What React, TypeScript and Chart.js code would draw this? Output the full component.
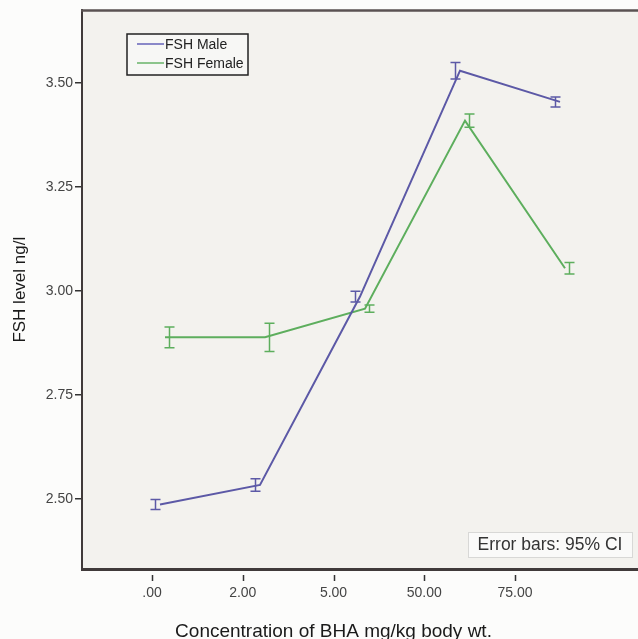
import React, { useEffect, useRef } from 'react';
import { Chart, registerables } from 'chart.js';

Chart.register(...registerables);

// ---- data ----
const categories = ['.00', '2.00', '5.00', '50.00', '75.00'];
const seriesLabels = ['FSH Male', 'FSH Female'];
const maleMeans = [2.487, 2.534, 2.987, 3.53, 3.455];
const maleCI = [0.012, 0.015, 0.013, 0.02, 0.012];
const femaleMeans = [2.889, 2.889, 2.958, 3.41, 3.055];
const femaleCI = [0.025, 0.034, 0.009, 0.016, 0.014];
const yTickValues = [2.5, 2.75, 3.0, 3.25, 3.5];
const xTitle = 'Concentration of BHA mg/kg body wt.';
const yTitle = 'FSH level ng/l';
const noteText = 'Error bars: 95% CI';

// ---- styles / layout ----
const W = 638;
const H = 639;
const MALE_COLOR = '#5c59a6';
const FEMALE_COLOR = '#5dae5d';
const MALE_LEGEND = '#8a88c8';
const FEMALE_LEGEND = '#8cc48c';
const FRAME = '#403a3a';
const FONT = '"Liberation Sans", Arial, sans-serif';
const TICK_START = -0.1;
const TICK_STEP = 0.9075;
const MALE_SHIFT = -0.02;
const FEMALE_SHIFT = 0.03;
const MALE_BAR_PX = -5;
const FEMALE_BAR_PX = 4;

const decorPlugin = {
  id: 'decor',
  beforeDraw(chart: any) {
    const { ctx, chartArea } = chart;
    ctx.save();
    ctx.fillStyle = '#fcfcfb';
    ctx.fillRect(0, 0, chart.width, chart.height);
    ctx.fillStyle = '#f3f2ee';
    ctx.fillRect(chartArea.left, chartArea.top, chartArea.right - chartArea.left, chartArea.bottom - chartArea.top);
    ctx.restore();
  },
  afterDatasetsDraw(chart: any) {
    const { ctx } = chart;
    const xs = chart.scales.x;
    const ys = chart.scales.y;
    const sets = [
      { means: maleMeans, ci: maleCI, shift: MALE_SHIFT, px: MALE_BAR_PX, color: MALE_COLOR },
      { means: femaleMeans, ci: femaleCI, shift: FEMALE_SHIFT, px: FEMALE_BAR_PX, color: FEMALE_COLOR },
    ];
    ctx.save();
    ctx.lineWidth = 1.5;
    sets.forEach((s) => {
      ctx.strokeStyle = s.color;
      s.means.forEach((m, i) => {
        const x = Math.round(xs.getPixelForValue(i + s.shift) + s.px) + 0.5;
        const yt = ys.getPixelForValue(m + s.ci[i]);
        const yb = ys.getPixelForValue(m - s.ci[i]);
        ctx.beginPath();
        ctx.moveTo(x, yt);
        ctx.lineTo(x, yb);
        ctx.moveTo(x - 5, yt);
        ctx.lineTo(x + 5, yt);
        ctx.moveTo(x - 5, yb);
        ctx.lineTo(x + 5, yb);
        ctx.stroke();
      });
    });
    ctx.restore();
  },
  afterDraw(chart: any) {
    const { ctx, chartArea } = chart;
    const xs = chart.scales.x;
    ctx.save();
    // top frame line
    ctx.strokeStyle = '#5a5252';
    ctx.lineWidth = 2.5;
    ctx.beginPath();
    ctx.moveTo(chartArea.left - 1, chartArea.top);
    ctx.lineTo(chartArea.right, chartArea.top);
    ctx.stroke();

    // x tick marks (offset below axis)
    ctx.strokeStyle = '#333';
    ctx.lineWidth = 1.5;
    xs.ticks.forEach((t: any) => {
      const x = Math.round(xs.getPixelForValue(t.value)) + 0.5;
      ctx.beginPath();
      ctx.moveTo(x, chartArea.bottom + 6);
      ctx.lineTo(x, chartArea.bottom + 12);
      ctx.stroke();
    });

    // x title centered on the tick range
    const first = xs.getPixelForValue(xs.ticks[0].value);
    const last = xs.getPixelForValue(xs.ticks[xs.ticks.length - 1].value);
    ctx.fillStyle = '#1a1a1a';
    ctx.font = `19px ${FONT}`;
    ctx.textAlign = 'center';
    ctx.textBaseline = 'middle';
    ctx.fillText(xTitle, (first + last) / 2, 632);

    // legend
    const lx = 127, ly = 34, lw = 121, lh = 41;
    ctx.fillStyle = '#f7f7f5';
    ctx.fillRect(lx, ly, lw, lh);
    ctx.strokeStyle = '#222';
    ctx.lineWidth = 1.5;
    ctx.strokeRect(lx, ly, lw, lh);
    const legendColors = [MALE_LEGEND, FEMALE_LEGEND];
    ctx.font = `14px ${FONT}`;
    ctx.textAlign = 'left';
    ctx.textBaseline = 'middle';
    seriesLabels.forEach((lab, i) => {
      const y = ly + 10 + i * 19;
      ctx.strokeStyle = legendColors[i];
      ctx.lineWidth = 2;
      ctx.beginPath();
      ctx.moveTo(lx + 10, y);
      ctx.lineTo(lx + 37, y);
      ctx.stroke();
      ctx.fillStyle = '#222';
      ctx.fillText(lab, lx + 38, y + 1);
    });

    // error bar note
    const nx = 468, ny = 532, nw = 164, nh = 25;
    ctx.fillStyle = '#fafaf9';
    ctx.fillRect(nx, ny, nw, nh);
    ctx.strokeStyle = '#d8d8d6';
    ctx.lineWidth = 1;
    ctx.strokeRect(nx + 0.5, ny + 0.5, nw, nh);
    ctx.fillStyle = '#333';
    ctx.font = `17.5px ${FONT}`;
    ctx.textAlign = 'center';
    ctx.fillText(noteText, nx + nw / 2, ny + nh / 2 + 1);
    ctx.restore();
  },
};

export default function App() {
  const ref = useRef<HTMLCanvasElement | null>(null);
  useEffect(() => {
    if (!ref.current) return;
    const chart = new Chart(ref.current, {
      type: 'line',
      data: {
        datasets: [
          {
            label: seriesLabels[0],
            data: maleMeans.map((v, i) => ({ x: i + MALE_SHIFT, y: v })),
            borderColor: MALE_COLOR,
            borderWidth: 2,
            pointRadius: 0,
            tension: 0,
          },
          {
            label: seriesLabels[1],
            data: femaleMeans.map((v, i) => ({ x: i + FEMALE_SHIFT, y: v })),
            borderColor: FEMALE_COLOR,
            borderWidth: 2,
            pointRadius: 0,
            tension: 0,
          },
        ],
      },
      options: {
        animation: false,
        responsive: false,
        devicePixelRatio: 1,
        layout: { padding: { top: 10, left: 0, right: 0, bottom: 0 } },
        plugins: { legend: { display: false }, tooltip: { enabled: false } },
        scales: {
          x: {
            type: 'linear',
            min: -0.8,
            max: 4.76,
            afterBuildTicks: (scale: any) => {
              scale.ticks = categories.map((_, i) => ({ value: TICK_START + i * TICK_STEP }));
            },
            afterFit: (scale: any) => {
              scale.height = 70;
            },
            ticks: {
              autoSkip: false,
              maxRotation: 0,
              padding: 16,
              color: '#444',
              font: { family: FONT, size: 14 },
              callback: (_v: any, idx: number) => categories[idx],
            },
            grid: { display: true, drawOnChartArea: false, drawTicks: false },
            border: { display: true, color: FRAME, width: 3 },
          },
          y: {
            type: 'linear',
            min: 2.332,
            max: 3.675,
            afterBuildTicks: (scale: any) => {
              scale.ticks = yTickValues.map((v) => ({ value: v }));
            },
            afterFit: (scale: any) => {
              scale.width = 82;
            },
            ticks: {
              padding: 2,
              color: '#444',
              font: { family: FONT, size: 14 },
              callback: (v: any) => Number(v).toFixed(2),
            },
            grid: {
              display: true,
              drawOnChartArea: false,
              drawTicks: true,
              tickLength: 7,
              tickColor: '#333',
              lineWidth: 1.5,
            },
            border: { display: true, color: FRAME, width: 2 },
            title: {
              display: true,
              text: yTitle,
              color: '#1a1a1a',
              font: { family: FONT, size: 17 },
              padding: { top: 10, bottom: 0 },
            },
          },
        },
      },
      plugins: [decorPlugin],
    } as any);
    return () => chart.destroy();
  }, []);
  return (
    <div style={{ position: 'fixed', left: 0, top: 0, width: W, height: H }}>
      <canvas ref={ref} width={W} height={H} />
    </div>
  );
}
